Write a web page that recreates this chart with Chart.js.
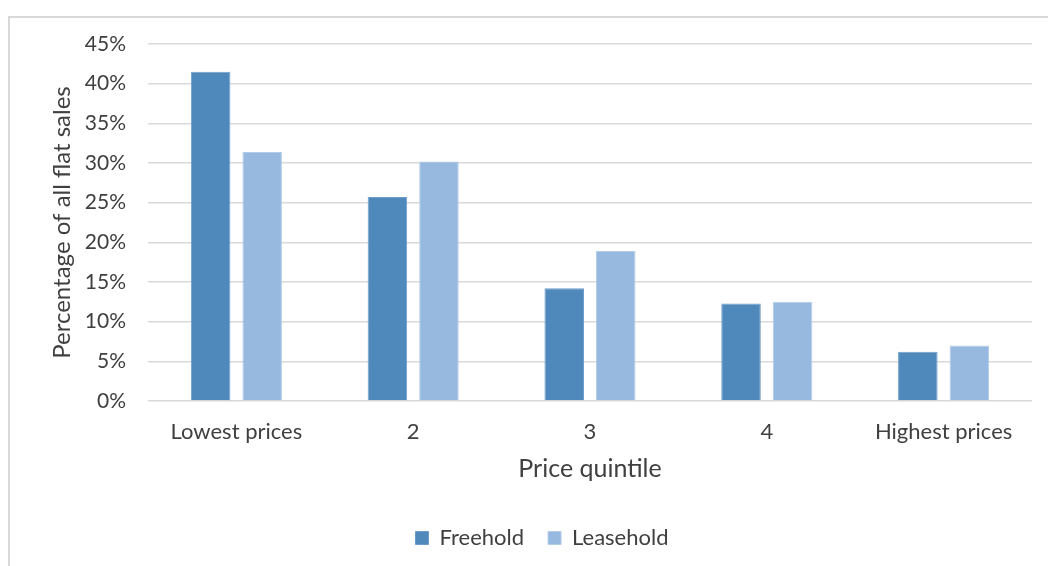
<!DOCTYPE html>
<html>
<head>
<meta charset="utf-8">
<script src="https://cdn.jsdelivr.net/npm/chart.js@4.4.1/dist/chart.umd.min.js"></script>
<style>
  html, body { margin: 0; padding: 0; background: #ffffff; }
  #wrap { width: 1048px; height: 566px; position: relative; }
</style>
</head>
<body>
<div id="wrap"><canvas id="c"></canvas></div>
<script>
// Share of flat sales by price quintile, freehold vs leasehold (%)
const categories = ['Lowest prices', '2', '3', '4', 'Highest prices'];
const freehold = [41.5, 25.7, 14.2, 12.3, 6.2];
const leasehold = [31.4, 30.2, 18.9, 12.5, 7.0];
const seriesNames = ['Freehold', 'Leasehold'];
const yMin = 0, yMax = 45, yStep = 5;

const FONT = 'Lato, "Open Sans", sans-serif';
const TEXT = '#404040';

// light grey frame around the chart
const framePlugin = {
  id: 'frame',
  beforeDraw(chart) {
    const ctx = chart.ctx;
    ctx.save();
    ctx.strokeStyle = '#d9d9d9';
    ctx.lineWidth = 2;
    ctx.beginPath();
    ctx.moveTo(9, chart.height + 5);
    ctx.lineTo(9, 17);
    ctx.lineTo(chart.width + 5, 17);
    ctx.stroke();
    ctx.restore();
  }
};

new Chart(document.getElementById('c'), {
  type: 'bar',
  data: {
    labels: categories,
    datasets: [
      {
        label: seriesNames[0],
        data: freehold,
        backgroundColor: '#4f89bc',
        borderColor: '#6d9dcb',
        borderWidth: 1,
        categoryPercentage: 0.583,
        barPercentage: 0.767
      },
      {
        label: seriesNames[1],
        data: leasehold,
        backgroundColor: '#98b9df',
        borderColor: '#b3cce9',
        borderWidth: 1,
        categoryPercentage: 0.583,
        barPercentage: 0.767
      }
    ]
  },
  options: {
    responsive: true,
    maintainAspectRatio: false,
    animation: false,
    layout: { padding: { left: 52, right: 16, top: 44, bottom: 7 } },
    plugins: {
      tooltip: { enabled: false },
      legend: {
        position: 'bottom',
        labels: {
          boxWidth: 13,
          boxHeight: 13,
          padding: 24,
          color: TEXT,
          font: { family: FONT, size: 22 }
        }
      }
    },
    scales: {
      x: {
        grid: { display: false, drawTicks: false },
        border: { display: false },
        ticks: { color: TEXT, padding: 18, font: { family: FONT, size: 22 } },
        title: {
          display: true,
          text: 'Price quintile',
          color: TEXT,
          padding: { top: 0, bottom: 19 },
          font: { family: FONT, size: 25 }
        },
        afterFit(scale) { scale.height = 102; }
      },
      y: {
        min: yMin,
        max: yMax,
        grid: { color: '#d9d9d9', lineWidth: 1.5, drawTicks: false },
        border: { display: false },
        ticks: {
          stepSize: yStep,
          color: TEXT,
          padding: 22,
          font: { family: FONT, size: 21 },
          callback: v => v + '%'
        },
        title: {
          display: true,
          text: 'Percentage of all flat sales',
          color: TEXT,
          padding: { top: -4.4, bottom: 0 },
          font: { family: FONT, size: 24 }
        },
        afterFit(scale) { scale.width = 96; }
      }
    }
  },
  plugins: [framePlugin]
});
</script>
</body>
</html>
